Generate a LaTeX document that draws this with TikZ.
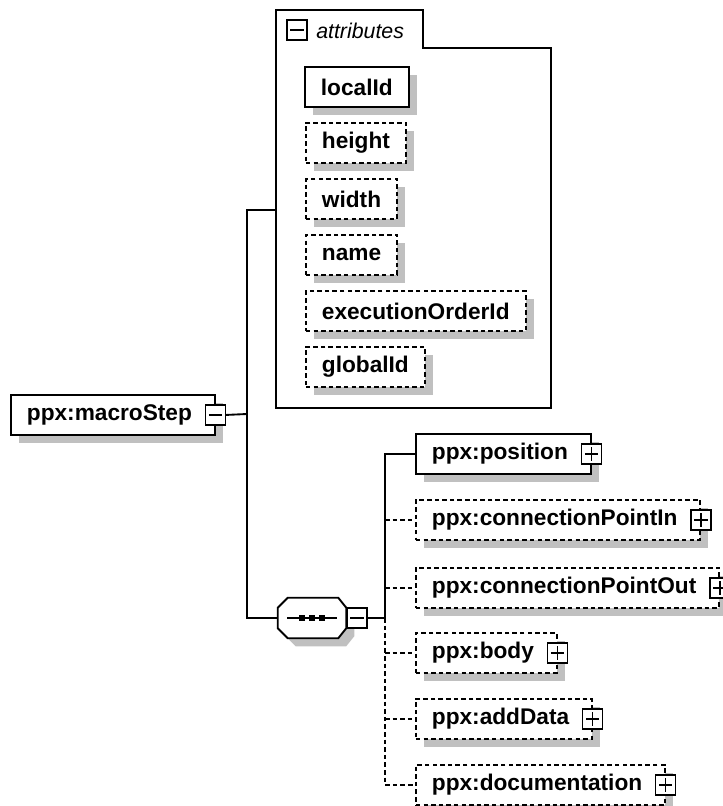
\documentclass[tikz,border=0pt]{standalone}
\usepackage{fontspec}
\setmainfont{Liberation Sans}
\usetikzlibrary{shadows}
\definecolor{shadowgray}{RGB}{192,192,192}
\tikzset{
  xsdbox/.style={draw, fill=white, line width=1.4pt, anchor=north west, minimum height=30pt, inner ysep=0pt, inner xsep=12pt, font=\bfseries\fontsize{17}{20}\selectfont, drop shadow={shadow xshift=6pt, shadow yshift=-6pt, fill=shadowgray, opacity=1}},
  optbox/.style={xsdbox, dash pattern=on 3.4pt off 2.3pt},
  attrbox/.style={xsdbox, inner xsep=12pt},
  iconbox/.style={draw, fill=white, line width=1pt, minimum size=15pt, inner sep=0pt},
  plusicon/.style={iconbox, path picture={\draw[line width=1pt] ([xshift=2.5pt]path picture bounding box.west) -- ([xshift=-2.5pt]path picture bounding box.east) ([yshift=-2.5pt]path picture bounding box.north) -- ([yshift=2.5pt]path picture bounding box.south);}},
  minusicon/.style={iconbox, path picture={\draw[line width=1pt] ([xshift=2.5pt]path picture bounding box.west) -- ([xshift=-2.5pt]path picture bounding box.east);}},
  link/.style={line width=1.4pt},
  optlink/.style={link, dash pattern=on 3.4pt off 2.3pt},
}
\begin{document}
\begin{tikzpicture}[x=0.75pt,y=0.75pt,yscale=-1,xscale=1]
\useasboundingbox (0,0) rectangle (722,806);
% attribute group
\draw[link] (276,408) -- (276,10) -- (423,10) -- (423,48) -- (551,48) -- (551,408) -- cycle;
\node[minusicon] (attrs-tgl) at (297,30) {};
\node[anchor=west, inner sep=0pt, font=\itshape\fontsize{16}{19}\selectfont] (attrs-label) at (316,31) {attributes};
\coordinate (attrs) at (276,210);
\node[attrbox] (localId) at (304,66) {localId};
\node[attrbox, dash pattern=on 3.4pt off 2.3pt] (height) at (305,122) {height};
\node[attrbox, dash pattern=on 3.4pt off 2.3pt] (width) at (305,178) {width};
\node[attrbox, dash pattern=on 3.4pt off 2.3pt] (name) at (305,234) {name};
\node[attrbox, dash pattern=on 3.4pt off 2.3pt] (execOrder) at (305,290) {executionOrderId};
\node[attrbox, dash pattern=on 3.4pt off 2.3pt] (globalId) at (305,346) {globalId};
% root element
\node[xsdbox] (macroStep) at (10,394) {ppx:macroStep\kern5pt};
\node[minusicon] (macroStep-tgl) at (macroStep.east) {};
\coordinate (trunk) at (247,414);
% sequence
\node[minimum width=51pt, minimum height=30pt, inner sep=0pt] (seq) at (312,618) {};
\draw[link, fill=white, drop shadow={shadow xshift=6pt, shadow yshift=-6pt, fill=shadowgray, opacity=1}] ([yshift=7.5pt]seq.north west) -- ([xshift=7.5pt]seq.north west) -- ([xshift=-6pt]seq.north east) -- ([yshift=7.5pt]seq.north east) -- ([yshift=-7.5pt]seq.south east) -- ([xshift=-6pt]seq.south east) -- ([xshift=7.5pt]seq.south west) -- ([yshift=-7.5pt]seq.south west) -- cycle;
\draw[link] ([xshift=-18.75pt]seq.center) -- ([xshift=18.75pt]seq.center);
\fill ([xshift=-7.5pt]seq.center) +(-2.25pt,-2.25pt) rectangle +(2.25pt,2.25pt);
\fill (seq.center) +(-2.25pt,-2.25pt) rectangle +(2.25pt,2.25pt);
\fill ([xshift=7.5pt]seq.center) +(-2.25pt,-2.25pt) rectangle +(2.25pt,2.25pt);
\node[minusicon, anchor=west] (seq-tgl) at (seq.east) {};
\coordinate (bus) at (385,618);
% child elements
\node[xsdbox] (position) at (415,433) {ppx:position\kern5pt};
\node[optbox] (connIn) at (415,499) {ppx:connectionPointIn\kern5pt};
\node[optbox] (connOut) at (415,567) {ppx:connectionPointOut\kern5pt};
\node[optbox] (body) at (415,632) {ppx:body\kern5pt};
\node[optbox] (addData) at (415,698) {ppx:addData\kern5pt};
\node[optbox] (documentation) at (415,764) {ppx:documentation\kern5pt};
\node[plusicon] (position-tgl) at (position.east) {};
\node[plusicon] (connIn-tgl) at (connIn.east) {};
\node[plusicon] (connOut-tgl) at (connOut.east) {};
\node[plusicon] (body-tgl) at (body.east) {};
\node[plusicon] (addData-tgl) at (addData.east) {};
\node[plusicon] (documentation-tgl) at (documentation.east) {};
% connectors
\draw[link] (macroStep-tgl.east) -- (trunk);
\draw[link] (attrs) -| (trunk) |- (seq.west);
\draw[link] (seq-tgl.east) -- (bus);
\draw[link] (bus) |- (position.west);
\draw[optlink] (bus) |- (documentation.west);
\draw[optlink] (bus |- connIn.west) -- (connIn.west);
\draw[optlink] (bus |- connOut.west) -- (connOut.west);
\draw[optlink] (bus |- body.west) -- (body.west);
\draw[optlink] (bus |- addData.west) -- (addData.west);
\end{tikzpicture}
\end{document}
